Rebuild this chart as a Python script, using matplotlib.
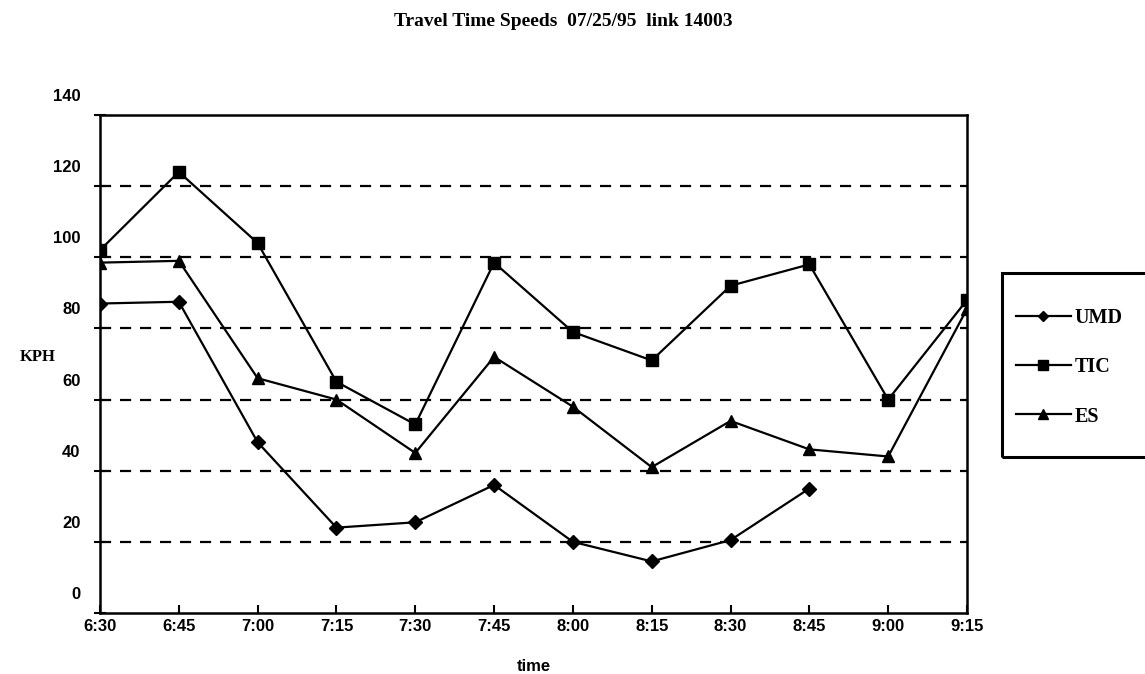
import numpy as np
import matplotlib
matplotlib.use('Agg')
import matplotlib.pyplot as plt
import matplotlib.transforms as mtransforms
from matplotlib.patches import Rectangle

# ---------------------------------------------------------------- data
times = ['6:30', '6:45', '7:00', '7:15', '7:30', '7:45',
         '8:00', '8:15', '8:30', '8:45', '9:00', '9:15']

umd = [87, 87.5, 48, 24, 25.5, 36, 20, 14.5, 20.5, 35, np.nan, np.nan]
tic = [102, 124, 104, 65, 53, 98.5, 79, 71, 92, 98, 60, 88]
es = [98.5, 99, 66, 60, 45, 72, 58, 41, 54, 46, 44, 85.5]

yticks = [0, 20, 40, 60, 80, 100, 120, 140]

serif = 'Liberation Serif'
sans = 'Liberation Sans'

# ---------------------------------------------------------------- figure
fig = plt.figure(figsize=(11.45, 6.74), dpi=100)
ax = fig.add_axes([100/1145, 1 - 613/674, 867/1145, 498/674])

x = np.arange(len(times))

# dashed gridlines (no line at 0 or 140)
for yv in yticks[1:-1]:
    ax.axhline(yv, color='black', lw=1.6, ls=(0, (5, 4)), zorder=1)

ax.plot(x, umd, color='black', lw=1.6, marker='D', ms=7, label='UMD', zorder=3)
ax.plot(x, tic, color='black', lw=1.6, marker='s', ms=9, label='TIC', zorder=3)
ax.plot(x, es, color='black', lw=1.6, marker='^', ms=9, label='ES', zorder=3)

ax.set_xlim(0, len(times) - 1)
ax.set_ylim(0, 140)
ax.set_xticks(x)
ax.set_xticklabels(times, fontfamily=sans, fontweight='bold', fontsize=12)
ax.set_yticks(yticks)
ax.set_yticklabels([str(v) for v in yticks], fontfamily=sans, fontweight='bold', fontsize=12)
ax.tick_params(axis='y', direction='inout', length=8, width=1.5, pad=10)
ax.tick_params(axis='x', direction='in', length=6, width=1.5, pad=4)

# the scanned original prints the y labels a little above their gridlines
shift = mtransforms.ScaledTranslation(0, 0.2, fig.dpi_scale_trans)
for lbl in ax.get_yticklabels():
    lbl.set_transform(lbl.get_transform() + shift)

for s in ax.spines.values():
    s.set_linewidth(1.8)

ax.set_xlabel('time', fontfamily=sans, fontweight='bold', fontsize=12, labelpad=18)
fig.text(38/1145, 1 - 357/674, 'KPH', fontfamily=serif, fontweight='bold',
         fontsize=12, ha='center', va='center')

fig.text(563/1145, 1 - 22/674, 'Travel Time Speeds  07/25/95  link 14003',
         fontfamily=serif, fontweight='bold', fontsize=14, ha='center', va='center')

# legend box (cut off at the right edge, as in the scan)
fig.patches.append(Rectangle((1002/1145, 1 - 457/674), 200/1145, 184/674,
                             transform=fig.transFigure, fill=False,
                             edgecolor='black', lw=2.2))
leg = fig.legend(loc='upper left', bbox_to_anchor=(998/1145, 1 - 290/674),
                 frameon=False, handlelength=2.7, handletextpad=0.2,
                 labelspacing=1.45, markerscale=0.8,
                 prop={'family': serif, 'weight': 'bold', 'size': 14.5})

fig.savefig('out.png', dpi=100)
